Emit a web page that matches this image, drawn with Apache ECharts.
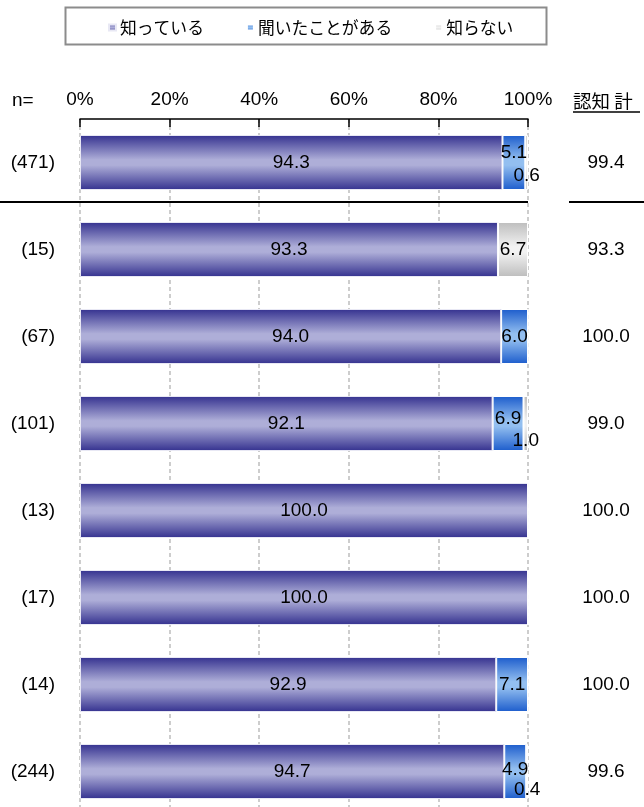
<!DOCTYPE html>
<html>
<head>
<meta charset="utf-8">
<script src="https://cdn.jsdelivr.net/npm/echarts@6/dist/echarts.min.js"></script>
<style>
  html, body { margin: 0; padding: 0; background: #fff; }
  #chart { width: 644px; height: 807px; }
</style>
</head>
<body>
<div id="chart"></div>
<script>
// Sample sizes per row, shown on the left
const sampleSizes = ['(471)', '(15)', '(67)', '(101)', '(13)', '(17)', '(14)', '(244)'];
// Share (%) for each answer
const knowValues = [94.3, 93.3, 94.0, 92.1, 100.0, 100.0, 92.9, 94.7];
const heardValues = [5.1, 0, 6.0, 6.9, 0, 0, 7.1, 4.9];
const unknownValues = [0.6, 6.7, 0, 1.0, 0, 0, 0, 0.4];
// Awareness total column on the right
const awarenessTotals = ['99.4', '93.3', '100.0', '99.0', '100.0', '100.0', '100.0', '99.6'];
const seriesNames = ['知っている', '聞いたことがある', '知らない'];
const percentTicks = [0, 20, 40, 60, 80, 100];

// Vertical nudges for the two stacked small-segment labels in a row
const upperNudge = [-10, 0, 0, -5, 0, 0, 0, -2];
const lowerNudge = [13, 0, 0, 17, 0, 0, 0, 18];

const FONT = '"Liberation Sans", Arial, "Noto Sans CJK JP", sans-serif';
const CJK = '"Noto Sans CJK JP", "Liberation Sans", sans-serif';

const chart = echarts.init(document.getElementById('chart'), null, { renderer: 'canvas' });

function grad(edge, mid) {
  return new echarts.graphic.LinearGradient(0, 0, 0, 1, [
    { offset: 0, color: edge },
    { offset: 0.45, color: mid },
    { offset: 0.55, color: mid },
    { offset: 1, color: edge }
  ]);
}

const fmt = p => p.value.toFixed(1);

const knowData = knowValues.map(v => ({ value: v, label: { show: v > 0 } }));
const heardData = heardValues.map((v, i) => ({
  value: v,
  label: { show: v > 0, offset: [0, unknownValues[i] > 0 ? upperNudge[i] : 0] }
}));
const unknownData = unknownValues.map((v, i) => ({
  value: v,
  label: { show: v > 0, offset: [0, heardValues[i] > 0 ? lowerNudge[i] : 0] }
}));

const labelBase = {
  position: 'inside',
  color: '#000',
  fontFamily: FONT,
  fontSize: 19,
  formatter: fmt
};

const option = {
  animation: false,
  backgroundColor: '#fff',
  legend: {
    data: seriesNames,
    left: 103,
    top: 14,
    icon: 'rect',
    itemWidth: 7,
    itemHeight: 6,
    itemGap: 42,
    textStyle: { fontFamily: CJK, fontSize: 16.8, color: '#000', padding: [0, 0, 0, -1] }
  },
  grid: { left: 80, top: 119, width: 448, height: 696, containLabel: false, outerBoundsMode: 'none' },
  xAxis: {
    type: 'value',
    position: 'top',
    min: 0,
    max: 100,
    interval: 20,
    axisLine: { show: true, lineStyle: { color: '#000', width: 1.5 } },
    axisTick: { show: true, inside: true, length: 8, lineStyle: { color: '#000', width: 1.5 } },
    axisLabel: { margin: 10, fontFamily: FONT, fontSize: 19, color: '#000', formatter: v => percentTicks.includes(v) ? v + '%' : '' },
    splitLine: { show: true, lineStyle: { color: '#bdbdbd', width: 1.5, type: [4, 3] } }
  },
  yAxis: [
    {
      type: 'category',
      inverse: true,
      data: sampleSizes,
      axisLine: { show: false },
      axisTick: { show: false },
      axisLabel: { margin: 25, align: 'right', fontFamily: FONT, fontSize: 19, color: '#000', interval: 0 }
    },
    {
      type: 'category',
      inverse: true,
      position: 'right',
      data: awarenessTotals,
      axisLine: { show: false },
      axisTick: { show: false },
      axisLabel: { margin: 78, align: 'center', fontFamily: FONT, fontSize: 19, color: '#000', interval: 0 }
    }
  ],
  series: [
    {
      name: seriesNames[0], type: 'bar', stack: 'all', barWidth: 55,
      itemStyle: { color: grad('#34318f', '#aeaed8'), borderColor: '#e8e8f4', borderWidth: 1 },
      label: labelBase,
      data: knowData
    },
    {
      name: seriesNames[1], type: 'bar', stack: 'all', barWidth: 55,
      itemStyle: { color: grad('#1c5ccc', '#93bff0'), borderColor: '#ffffff', borderWidth: 1 },
      label: labelBase,
      data: heardData
    },
    {
      name: seriesNames[2], type: 'bar', stack: 'all', barWidth: 55,
      itemStyle: { color: grad('#bdbdbd', '#f2f2f2'), borderColor: '#ffffff', borderWidth: 1 },
      label: labelBase,
      data: unknownData
    }
  ],
  graphic: [
    // legend frame
    { type: 'rect', shape: { x: 65.5, y: 7.5, width: 481, height: 37 }, style: { fill: 'none', stroke: '#8c8c8c', lineWidth: 2 }, z: 0 },
    // column headers
    { type: 'text', x: 12, y: 101, style: { text: 'n=', fontFamily: FONT, fontSize: 19, fill: '#000', verticalAlign: 'middle' } },
    { type: 'text', x: 573, y: 101, style: { text: '認知 計', fontFamily: CJK, fontSize: 18.5, fill: '#000', verticalAlign: 'middle' } },
    { type: 'line', shape: { x1: 573, y1: 112, x2: 640, y2: 112 }, style: { stroke: '#000', lineWidth: 1.5 } },
    // separator below the total row
    { type: 'line', shape: { x1: 0, y1: 202, x2: 528, y2: 202 }, style: { stroke: '#000', lineWidth: 2 }, z: 10 },
    { type: 'line', shape: { x1: 569, y1: 202, x2: 644, y2: 202 }, style: { stroke: '#000', lineWidth: 2 }, z: 10 }
  ]
};

chart.setOption(option);
</script>
</body>
</html>
